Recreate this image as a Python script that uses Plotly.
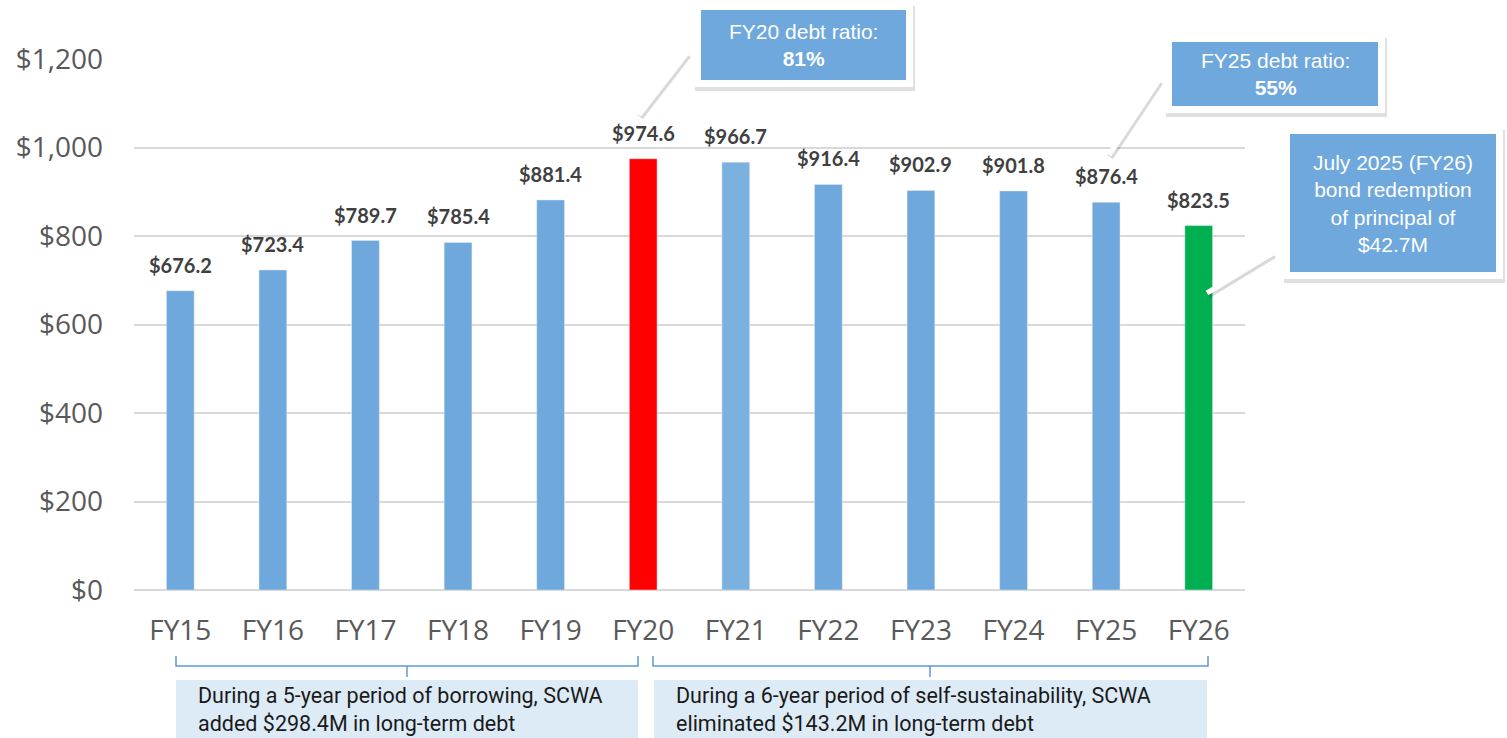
import plotly.graph_objects as go

# long-term debt by fiscal year ($M)
years = ['FY15', 'FY16', 'FY17', 'FY18', 'FY19', 'FY20',
         'FY21', 'FY22', 'FY23', 'FY24', 'FY25', 'FY26']
debt = [676.2, 723.4, 789.7, 785.4, 881.4, 974.6,
        966.7, 916.4, 902.9, 901.8, 876.4, 823.5]
bar_colors = ['#6FA8DC'] * 5 + ['#FF0000'] + ['#7AB1DF'] + ['#6FA8DC'] * 4 + ['#00B050']

yticks = [0, 200, 400, 600, 800, 1000, 1200]
ytick_text = ['$0', '$200', '$400', '$600', '$800', '$1,000', '$1,200']

callout_fy20 = ['FY20 debt ratio:', '81%']
callout_fy25 = ['FY25 debt ratio:', '55%']
callout_fy26 = 'July 2025 (FY26)<br>bond redemption<br>of principal of<br>$42.7M'
note_left = 'During a 5-year period of borrowing, SCWA<br>added $298.4M in long-term debt'
note_right = 'During a 6-year period of self-sustainability, SCWA<br>eliminated $143.2M in long-term debt'

# plot area in pixels
W_FIG, H_FIG = 1507, 738
L, R, T, B = 134, 1245, 59, 590


def px(x):
    return (x - L) / (R - L)


def py(y):
    return (B - y) / (B - T)


fig = go.Figure()
fig.add_trace(go.Bar(
    x=years, y=debt, marker_color=bar_colors, width=0.3,
    hoverinfo='x+y'
))

annotations = []
# value labels above bars
for yr, v in zip(years, debt):
    annotations.append(dict(
        x=yr, y=v, xref='x', yref='y', text=f'${v:,.1f}', showarrow=False,
        yanchor='bottom', yshift=12,
        font=dict(family='Lato', size=20, color='#404040', weight='bold')
    ))

shapes = []


def callout(x0, y0, x1, y1, lx0, ly0, lx1, ly1):
    # connector line: shadow + white stroke
    shapes.append(dict(type='line', xref='paper', yref='paper',
                       x0=px(lx0 + 1), y0=py(ly0 + 2), x1=px(lx1 + 1), y1=py(ly1 + 2),
                       line=dict(color='rgba(0,0,0,0.15)', width=7), layer='above'))
    shapes.append(dict(type='line', xref='paper', yref='paper',
                       x0=px(lx0), y0=py(ly0), x1=px(lx1), y1=py(ly1),
                       line=dict(color='white', width=5), layer='above'))
    # box shadow
    shapes.append(dict(type='rect', xref='paper', yref='paper',
                       x0=px(x0 + 1), y0=py(y0 + 3), x1=px(x1 + 2), y1=py(y1 + 4),
                       fillcolor='rgba(0,0,0,0.12)', line=dict(width=0), layer='above'))
    # white frame
    shapes.append(dict(type='rect', xref='paper', yref='paper',
                       x0=px(x0), y0=py(y0), x1=px(x1), y1=py(y1),
                       fillcolor='white', line=dict(width=0), layer='above'))
    # blue box
    shapes.append(dict(type='rect', xref='paper', yref='paper',
                       x0=px(x0 + 7), y0=py(y0 + 7), x1=px(x1 - 7), y1=py(y1 - 7),
                       fillcolor='#6FA8DC', line=dict(width=0), layer='above'))
    return ((x0 + x1) / 2, (y0 + y1) / 2)


cfont = dict(family='Liberation Sans', size=21, color='white')

boxes = [
    ((694, 3, 913, 87, 639, 115, 687, 53), f'{callout_fy20[0]}<br><b>{callout_fy20[1]}</b>'),
    ((1165, 35, 1385, 113, 1109, 155, 1159, 80), f'{callout_fy25[0]}<br><b>{callout_fy25[1]}</b>'),
    ((1283, 127, 1503, 279, 1207, 293, 1273, 253), callout_fy26),
]
for geom, txt in boxes:
    cx, cy = callout(*geom)
    annotations.append(dict(x=px(cx), y=py(cy), xref='paper', yref='paper', showarrow=False,
                            xanchor='center', yanchor='middle', text=txt, font=cfont))


# brackets and notes below axis
def bracket(x0, x1, xm):
    c = '#5B9BD5'
    shapes.append(dict(type='path', xref='paper', yref='paper',
                       path=f'M {px(x0)},{py(656)} L {px(x0)},{py(666)} L {px(x1)},{py(666)} L {px(x1)},{py(656)}',
                       line=dict(color=c, width=1.5)))
    shapes.append(dict(type='line', xref='paper', yref='paper',
                       x0=px(xm), y0=py(666), x1=px(xm), y1=py(677),
                       line=dict(color=c, width=1.5)))


bracket(176, 638, 407)
bracket(653, 1208, 930)

nfont = dict(family='Roboto', size=21.5, color='#1a1a1a')
for (x0, x1, txt) in [(176, 638, note_left), (654, 1207, note_right)]:
    shapes.append(dict(type='rect', xref='paper', yref='paper',
                       x0=px(x0), y0=py(680), x1=px(x1), y1=py(738),
                       fillcolor='#DDEBF7', line=dict(width=0)))
    annotations.append(dict(x=px(x0 + 20), y=py(709), xref='paper', yref='paper',
                            xanchor='left', yanchor='middle', align='left',
                            showarrow=False, text=txt, font=nfont))

fig.update_layout(
    width=W_FIG, height=H_FIG,
    margin=dict(l=L, r=W_FIG - R, t=T, b=H_FIG - B),
    plot_bgcolor='white', paper_bgcolor='white',
    showlegend=False,
    annotations=annotations,
    shapes=shapes,
    xaxis=dict(
        tickfont=dict(family='Open Sans', size=28, color='#595959'),
        ticklabelstandoff=21, showline=False, showgrid=False,
    ),
    yaxis=dict(
        range=[0, 1200], tickvals=yticks, ticktext=ytick_text,
        tickfont=dict(family='Open Sans', size=28, color='#595959'),
        ticklabelstandoff=30,
        showgrid=True, gridcolor='#D9D9D9', gridwidth=1.5,
        zeroline=True, zerolinecolor='#D9D9D9', zerolinewidth=1.5,
        showline=False,
    ),
)

fig.write_html('out.html', config={'displayModeBar': False},
               post_script="document.body.style.margin='0';document.body.style.overflow='hidden';")
